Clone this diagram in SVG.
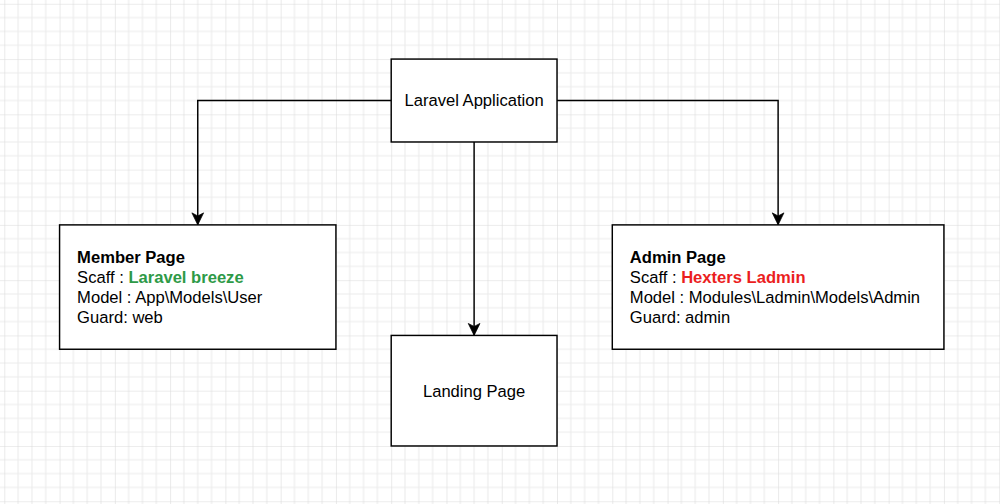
<svg xmlns="http://www.w3.org/2000/svg" width="1000" height="504" viewBox="0 0 1000 504">
  <style>
    .box { fill: #ffffff; stroke: #000000; stroke-width: 1.05; }
    .lbl { font-family: "Liberation Sans", Arial, Helvetica, sans-serif; font-size: 12px; fill: #000000; }
    .ctr { text-anchor: middle; }
    .b { font-weight: bold; }
    .green { fill: #2E9A47; font-weight: bold; }
    .red { fill: #EB1E1E; font-weight: bold; }
    .edge { fill: none; stroke: #000000; stroke-width: 1.05; marker-end: url(#arrow); }
    .minor { stroke: #ebebeb; stroke-width: 0.8; }
    .major { stroke: #d9d9d9; stroke-width: 0.8; }
  </style>
  <defs>
    <pattern id="grid" patternUnits="userSpaceOnUse" x="0" y="0" width="40" height="40">
      <line class="minor" x1="10" y1="0" x2="10" y2="40"/>
      <line class="minor" x1="20" y1="0" x2="20" y2="40"/>
      <line class="minor" x1="30" y1="0" x2="30" y2="40"/>
      <line class="minor" x1="0" y1="10" x2="40" y2="10"/>
      <line class="minor" x1="0" y1="20" x2="40" y2="20"/>
      <line class="minor" x1="0" y1="30" x2="40" y2="30"/>
      <line class="major" x1="0" y1="0" x2="0" y2="40"/>
      <line class="major" x1="0" y1="0" x2="40" y2="0"/>
    </pattern>
    <marker id="arrow" markerUnits="userSpaceOnUse" markerWidth="10" markerHeight="10" refX="8.7" refY="4.25" orient="auto" overflow="visible">
      <path d="M0,0 L8.7,4.25 L0,8.5 L2.2,4.25 Z" fill="#000000" stroke="#000000" stroke-width="0.5" stroke-linejoin="miter"/>
    </marker>
  </defs>
  <rect x="0" y="0" width="1000" height="504" fill="#ffffff"/>
  <g transform="translate(4.3 3.8) scale(1.3818)">
    <rect x="-40" y="-40" width="800" height="440" fill="url(#grid)"/>

    <g id="connectors">
      <path class="edge" d="M280,70 L140,70 L140,160"/>
      <path class="edge" d="M400,70 L560,70 L560,160"/>
      <path class="edge" d="M340,100 L340,240"/>
    </g>

    <g id="laravel-application">
      <rect class="box" x="280" y="40" width="120" height="60"/>
      <text class="lbl ctr" x="340" y="74.3">Laravel Application</text>
    </g>

    <g id="member-page">
      <rect class="box" x="40" y="160" width="200" height="90"/>
      <text class="lbl" x="52.7" y="187.4"><tspan class="b">Member Page</tspan></text>
      <text class="lbl" x="52.7" y="201.9">Scaff : <tspan class="green">Laravel breeze</tspan></text>
      <text class="lbl" x="52.7" y="216.3">Model : App\Models\User</text>
      <text class="lbl" x="52.7" y="230.8">Guard: web</text>
    </g>

    <g id="admin-page">
      <rect class="box" x="440" y="160" width="240" height="90"/>
      <text class="lbl" x="452.7" y="187.4"><tspan class="b">Admin Page</tspan></text>
      <text class="lbl" x="452.7" y="201.9">Scaff : <tspan class="red">Hexters Ladmin</tspan></text>
      <text class="lbl" x="452.7" y="216.3">Model : Modules\Ladmin\Models\Admin</text>
      <text class="lbl" x="452.7" y="230.8">Guard: admin</text>
    </g>

    <g id="landing-page">
      <rect class="box" x="280" y="240" width="120" height="80"/>
      <text class="lbl ctr" x="340" y="284.3">Landing Page</text>
    </g>
  </g>
</svg>
